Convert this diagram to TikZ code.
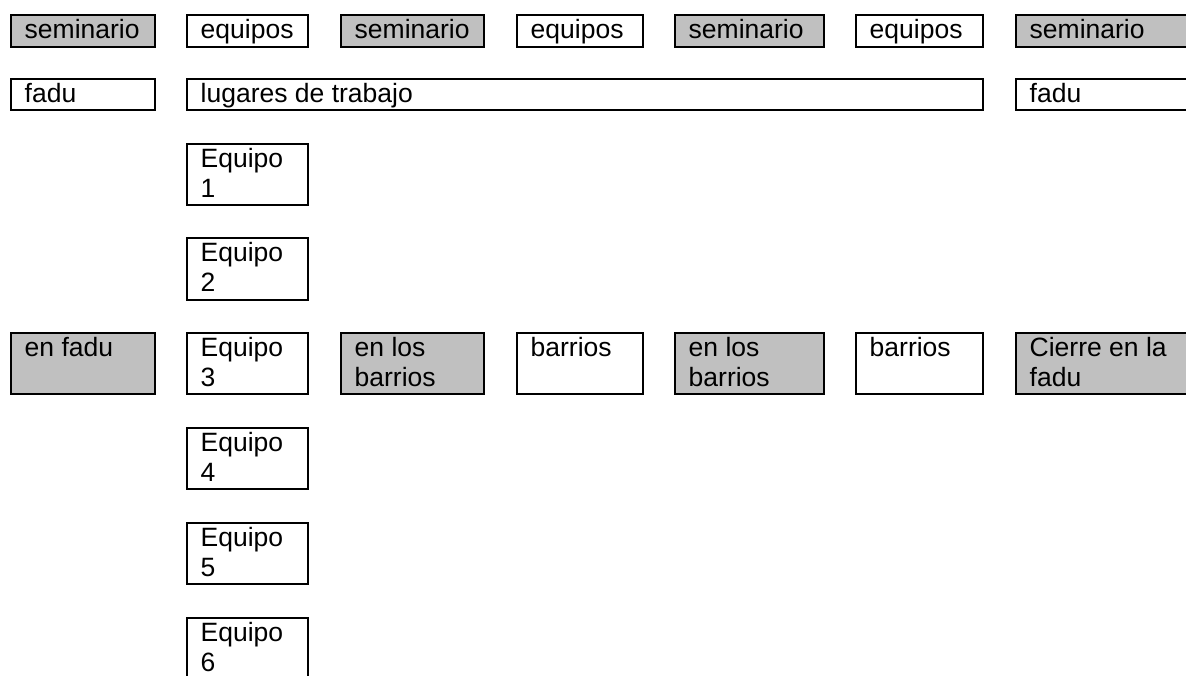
\documentclass[tikz,border=0pt]{standalone}
\usepackage{fontspec}
\setmainfont{Liberation Sans}
\definecolor{boxgray}{HTML}{C0C0C0}
\newcommand\mybox[7]{\node[#2] (#1) at (#3pt+1.2pt,-#4pt-1.2pt) {\parbox[c][\dimexpr #6pt-#4pt-2.4pt\relax][t]{\dimexpr #5pt-#3pt-2.4pt\relax}{\raggedright\leftskip=13.5pt\rule{0pt}{23.3pt}#7}};}
\begin{document}
\begin{tikzpicture}[x=1pt,y=1pt,
  bx/.style={draw=black, line width=2.4pt, inner sep=0pt, outer sep=0pt, anchor=north west, rectangle, fill=white, font=\fontsize{26.5}{30}\selectfont},
  gr/.style={bx, fill=boxgray}]
\useasboundingbox (0,0) rectangle (1186,-675);
\clip (0,0) rectangle (1186,-675);
\fill[white] (0,0) rectangle (1186,-675);
% row 1
\mybox{s1}{gr}{10}{14}{156}{48}{seminario}
\mybox{e1}{bx}{186}{14}{309}{48}{equipos}
\mybox{s2}{gr}{340}{14}{485}{48}{seminario}
\mybox{e2}{bx}{516}{14}{644}{48}{equipos}
\mybox{s3}{gr}{674}{14}{825}{48}{seminario}
\mybox{e3}{bx}{855}{14}{984}{48}{equipos}
\mybox{s4}{gr}{1015}{14}{1200}{48}{seminario}
% row 2
\mybox{f1}{bx}{10}{78}{156}{111}{fadu}
\mybox{lt}{bx}{186}{78}{984}{111}{lugares de trabajo}
\mybox{f2}{bx}{1015}{78}{1200}{111}{fadu}
% equipo column
\mybox{q1}{bx}{186}{143}{309}{206}{Equipo\\1}
\mybox{q2}{bx}{186}{237}{309}{301}{Equipo\\2}
\mybox{q3}{bx}{186}{332}{309}{395}{Equipo\\3}
\mybox{q4}{bx}{186}{427}{309}{490}{Equipo\\4}
\mybox{q5}{bx}{186}{522}{309}{585}{Equipo\\5}
\mybox{q6}{bx}{186}{617}{309}{690}{Equipo\\6}
% row 4
\mybox{ef}{gr}{10}{332}{156}{395}{en fadu}
\mybox{b1}{gr}{340}{332}{485}{395}{en los\\barrios}
\mybox{w1}{bx}{516}{332}{644}{395}{barrios}
\mybox{b2}{gr}{674}{332}{825}{395}{en los\\barrios}
\mybox{w2}{bx}{855}{332}{984}{395}{barrios}
\mybox{ci}{gr}{1015}{332}{1200}{395}{Cierre en la\\fadu}
\end{tikzpicture}
\end{document}
